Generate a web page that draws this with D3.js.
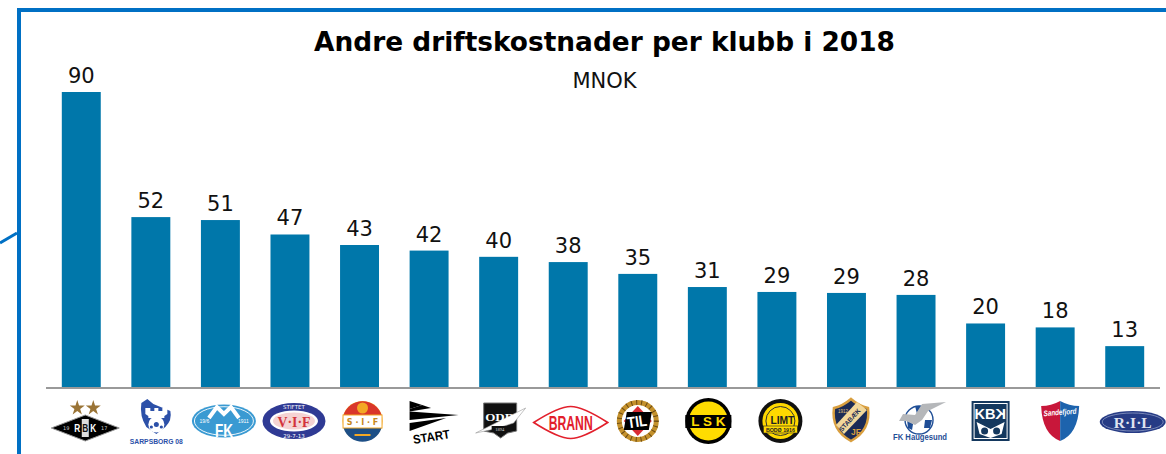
<!DOCTYPE html>
<html><head><meta charset="utf-8">
<script src="https://cdn.jsdelivr.net/npm/d3@7/dist/d3.min.js"></script>
<style>html,body{margin:0;padding:0;background:#fff}svg{display:block}text{font-family:"DejaVu Sans",sans-serif}</style>
</head><body><svg id="c" width="1166" height="454"></svg>
<script>
const clubs=["Rosenborg","Sarpsborg 08","Molde","Vålerenga","Strømsgodset","Start","Odd","Brann","Tromsø","Lillestrøm","Bodø/Glimt","Stabæk","Haugesund","Kristiansund","Sandefjord","Ranheim"];
const costs=[90,51.9,51,46.6,43.4,41.7,39.8,38.2,34.6,30.6,29.1,28.8,28.2,19.5,18.3,12.6];
const labels=["90","52","51","47","43","42","40","38","35","31","29","29","28","20","18","13"];
const titleText="Andre driftskostnader per klubb i 2018";
const unitText="MNOK";

const svg=d3.select("#c");
const x=d3.scaleBand().domain(clubs).range([46.5,1159.5]).paddingInner(0.44).paddingOuter(0.22);
const y=d3.scaleLinear().domain([0,90]).range([387.5,92]);
const BLUE="#0070c4",BAR="#0077aa";

// frame
svg.append("path").attr("d","M19 454V10H1166").attr("fill","none").attr("stroke",BLUE).attr("stroke-width",4);
svg.append("path").attr("d","M0 243L17 233").attr("fill","none").attr("stroke",BLUE).attr("stroke-width",3);

svg.append("text").attr("x",604.5).attr("y",51).attr("text-anchor","middle").attr("font-weight","bold").attr("font-size",26.4).attr("fill","#000").text(titleText);
svg.append("text").attr("x",604.5).attr("y",88).attr("text-anchor","middle").attr("font-size",21).attr("fill","#111").text(unitText);

svg.selectAll("rect.bar").data(costs).join("rect").attr("class","bar")
 .attr("x",(d,i)=>x(clubs[i])).attr("width",x.bandwidth())
 .attr("y",d=>y(d)).attr("height",d=>y(0)-y(d)).attr("fill",BAR);
svg.selectAll("text.val").data(costs).join("text").attr("class","val")
 .attr("x",(d,i)=>x(clubs[i])+x.bandwidth()/2).attr("y",d=>y(d)-9)
 .attr("text-anchor","middle").attr("font-size",21).attr("fill","#111").text((d,i)=>labels[i]);

const axis=d3.axisBottom(x).tickSize(0).tickFormat("");
const ag=svg.append("g").attr("transform","translate(0,388)").call(axis);
ag.select(".domain").attr("stroke","#999").attr("stroke-width",2).attr("d","M46 0H1160");

// logos: each drawn around the centre of its club's band
const cx=c=>x(c)+x.bandwidth()/2;
function L(c,dx,dy){return svg.append("g").attr("transform",`translate(${cx(c)+dx},${dy})`).attr("class","logo");}
function T(g,s,xx,yy,size,fill,o={}){const t=g.append("text").attr("x",xx).attr("y",yy).attr("text-anchor",o.anchor||"middle").attr("font-size",size).attr("fill",fill).attr("font-weight",o.w||"bold").text(s);
 if(o.family)t.style("font-family",o.family);if(o.style)t.attr("font-style",o.style);if(o.tl)t.attr("textLength",o.tl).attr("lengthAdjust","spacingAndGlyphs");if(o.rot!=null)t.attr("transform",`rotate(${o.rot} ${xx} ${yy})`);return t;}
const star=d3.symbol().type(d3.symbolStar).size(70);
const cond='"Liberation Sans",sans-serif',serif='"Liberation Serif",serif';

// Rosenborg
{const g=L("Rosenborg",4,428);
 g.selectAll("path.s").data([-8,8]).join("path").attr("d",star).attr("transform",d=>`translate(${d},-20)`).attr("fill","#9a7436");
 g.append("path").attr("d","M-34 0L0 -13L34 0L0 13Z").attr("fill","#000").attr("stroke","#999").attr("stroke-width",1);
 g.append("rect").attr("x",-3.5).attr("y",-9).attr("width",7).attr("height",18).attr("fill","#ddd");
 T(g,"R",-8,4,10,"#fff",{family:cond,tl:6});T(g,"B",0,4,10,"#111",{family:cond,tl:6});T(g,"K",8,4,10,"#fff",{family:cond,tl:6});
 T(g,"19",-19,2,5,"#ccc",{w:"normal"});T(g,"17",19,2,5,"#ccc",{w:"normal"});}
// Sarpsborg 08
{const g=L("Sarpsborg 08",5.5,0);const c="#2c50a8";
 g.append("path").attr("d","M-15 403L-9 399L-3 404L14 411Q16 420 9 427L0 434L-10 427Q-17 416 -15 403Z").attr("fill",c);
 g.append("path").attr("d","M-11 408H-6V411H-2V408H2V411H6V408H11V414L8 416V418H-8V416L-11 414Z").attr("fill","#fff");
 g.append("circle").attr("cx",0).attr("cy",424.5).attr("r",8).attr("fill","#fff");
 g.append("circle").attr("cx",0).attr("cy",424.5).attr("r",2.5).attr("fill",c);
 g.append("circle").attr("cx",-5).attr("cy",427).attr("r",1.6).attr("fill",c);
 g.append("circle").attr("cx",5).attr("cy",427).attr("r",1.6).attr("fill",c);
 T(g,"SARPSBORG 08",0,444,8,c,{family:cond,tl:53});}
// Molde
{const g=L("Molde",3.5,421);const c="#3a9ad2";
 g.append("ellipse").attr("rx",32).attr("ry",16.5).attr("fill",c);
 g.append("ellipse").attr("rx",29.5).attr("ry",14.3).attr("fill","none").attr("stroke","#fff").attr("stroke-width",.9);
 g.append("path").attr("d","M-15 -3L-7 -14L0 -7L7 -14L15 -3").attr("fill","none").attr("stroke","#fff").attr("stroke-width",4);
 T(g,"FK",0,15.5,19,"#fff",{family:cond,tl:18});
 T(g,"19/6",-19.5,2,5,"#fff",{w:"normal",family:cond});T(g,"1911",19.5,2,5,"#fff",{w:"normal",family:cond});}
// Vålerenga
{const g=L("Vålerenga",4,421);const c="#2f3a94";
 g.append("ellipse").attr("rx",31.5).attr("ry",18).attr("fill",c);
 g.append("ellipse").attr("rx",24).attr("ry",10.5).attr("fill","#fff");
 g.append("ellipse").attr("rx",21).attr("ry",8.5).attr("fill","#f5d3d3");
 T(g,"V·I·F",0,6,15,"#d2343c",{family:serif,tl:33});
 T(g,"STIFTET",0,-12,5.5,"#fff",{w:"normal"});T(g,"29-7-13",0,16.5,5.5,"#fff",{w:"normal"});}
// Strømsgodset
{const g=L("Strømsgodset",3,421);
 g.append("circle").attr("r",20).attr("fill","#f3a825");
 g.append("path").attr("d","M-19 -6A20 20 0 0 1 19 -6Z").attr("fill","#d9362a");
 g.append("path").attr("d","M-19 7A20 20 0 0 0 19 7Z").attr("fill","#1d4f86");
 g.append("rect").attr("x",-19.5).attr("y",-6).attr("width",39).attr("height",13).attr("fill","#fff");
 g.append("rect").attr("x",-19.5).attr("y",-6).attr("width",39).attr("height",13).attr("fill","none").attr("stroke","#f3a825").attr("stroke-width",1);
 g.append("circle").attr("cy",-13).attr("r",5.5).attr("fill","#f3a825");
 T(g,"S · I · F",0,4,8,"#c8891c",{});
 g.append("path").attr("d","M-8 14H8").attr("stroke","#f3a825").attr("stroke-width",2);}
// Start
{const g=L("Start",0,0);
 g.append("path").attr("d","M-19.5 401L-7 405L-19.5 409Z M-19.5 411.5L29.5 415L-19.5 420Z M-19.5 423L17 418L-19.5 431Z").attr("fill","#000");
 g.append("path").attr("d","M-19.5 409L-7 405L2 408L-19.5 411.5Z").attr("fill","#000");
 T(g,"START",3,441,12.5,"#000",{family:cond,tl:37,rot:-9});}
// Odd
{const g=L("Odd",1,0);
 g.append("path").attr("d","M-16 403H17V431L8 433L1 438L-6 433L-16 431Z").attr("fill","#111").attr("stroke","#777");
 g.append("path").attr("d","M-24 433L26 408L14 423L-5 429Z").attr("fill","#fff").attr("stroke","#999").attr("stroke-width",.6);
 T(g,"ODD",0,421,11,"#fff",{family:serif,tl:29});
 g.append("rect").attr("x",-8).attr("y",426).attr("width",16).attr("height",6).attr("fill","#111");
 T(g,"1894",0,431,4.5,"#ddd",{w:"normal",family:serif});}
// Brann
{const g=L("Brann",2.5,422.5);const c="#e2202c";
 g.append("path").attr("d","M-37 0Q-12 -16 0 -16Q12 -16 37 0Q12 16 0 16Q-12 16 -37 0Z").attr("fill","#fff").attr("stroke",c).attr("stroke-width",1.6);
 T(g,"BRANN",0,7,20,c,{family:cond,tl:44});}
// Tromsø
{const g=L("Tromsø",0,421);
 g.append("circle").attr("r",18.5).attr("fill","none").attr("stroke","#c4912c").attr("stroke-width",5);
 g.append("circle").attr("r",18.5).attr("fill","none").attr("stroke","#6b4a12").attr("stroke-width",5).attr("stroke-dasharray","1 4");
 g.append("path").attr("d","M0 -15L14 0L0 15L-14 0Z").attr("fill","#d92b33");
 g.append("path").attr("d","M-11 -9H14L11 9H-14Z").attr("fill","#000");
 T(g,"TIL",0,6,16,"#fff",{family:cond,tl:20,rot:-8});}
// Lillestrøm
{const g=L("Lillestrøm",1,421);
 g.append("circle").attr("r",23).attr("fill","#000");
 g.append("circle").attr("r",19.5).attr("fill","#ffdc00");
 g.append("rect").attr("x",-23).attr("y",-6).attr("width",46).attr("height",13).attr("fill","#000");
 T(g,"L S K",0,5,12,"#ffdc00",{family:cond,tl:34});}
// Bodø/Glimt
{const g=L("Bodø/Glimt",3.5,421);
 g.append("circle").attr("r",22).attr("fill","#111");
 g.append("circle").attr("r",18).attr("fill","#ffd900");
 g.append("circle").attr("r",14.5).attr("fill","none").attr("stroke","#333").attr("stroke-width",1);
 g.append("rect").attr("x",-17).attr("y",5).attr("width",34).attr("height",7).attr("fill","#ffd900").attr("stroke","#222").attr("stroke-width",.6);
 T(g,"BODØ 1916",0,10.5,5,"#222",{family:cond,tl:29});
 T(g,"LIMT",2,3,11,"#222",{family:cond,tl:24});}
// Stabæk
{const g=L("Stabæk",4.5,0);
 g.append("path").attr("d","M-17 408Q-8 406 0 399Q8 406 17 408Q20 430 0 441Q-20 430 -17 408Z").attr("fill","#1c2b55").attr("stroke","#d99f3f").attr("stroke-width",2.5);
 g.append("path").attr("d","M-15 425L6 402L16 410L-7 434Z").attr("fill","#f2d79a");
 T(g,"JF",5,435,8.5,"#d99f3f",{family:cond});
 T(g,"1912",-8,413,4.5,"#e8c27a",{w:"normal",family:cond});
 T(g,"STABÆK",0.5,421.5,6.5,"#1c2b55",{family:cond,rot:-48});}
// Haugesund
{const g=L("Haugesund",3,0);const c="#1f4e96";
 g.append("circle").attr("cy",420).attr("r",14).attr("fill","#fff").attr("stroke",c).attr("stroke-width",1.4);
 g.append("path").attr("d","M-4 406L5 406L6 413L-2 414Z M6 420L13 420L11 428L5 428Z M-12 420L-6 424L-7 430L-11 428Z").attr("fill",c);
 g.append("path").attr("d","M-20 421L-16 414L-4 415L3 404L27 402L9 411L3 420L-4 425L-13 421Z").attr("fill","#b5b7ba");
 T(g,"FK Haugesund",1,440,9,c,{family:cond,tl:54});}
// Kristiansund
{const g=L("Kristiansund",5,0);const c="#14385e";
 g.append("rect").attr("x",-19).attr("y",401).attr("width",38).attr("height",40).attr("fill",c);
 g.append("rect").attr("x",-16.5).attr("y",403.5).attr("width",33).attr("height",35).attr("fill","none").attr("stroke","#fff").attr("stroke-width",1);
 T(g,"KB",-5.5,419,15,"#fff",{family:cond,tl:21});
 T(g,"K",10,419,15,"#fff",{family:cond}).attr("transform","translate(20,0) scale(-1,1)");
 g.append("path").attr("d","M-14 422L0 429L14 422L11 434L0 438L-11 434Z").attr("fill","#fff");
 g.selectAll("circle.e").data([-6,6]).join("circle").attr("cx",d=>d).attr("cy",431).attr("r",3.5).attr("fill",c);}
// Sandefjord
{const g=L("Sandefjord",5,0);
 g.append("path").attr("d","M-19 406Q-9 406 0 401V441Q-18 434 -19 406Z").attr("fill","#c8173a");
 g.append("path").attr("d","M19 406Q9 406 0 401V441Q18 434 19 406Z").attr("fill","#1d63ad");
 T(g,"Sandefjord",0,415,8,"#fff",{family:cond,style:"italic",tl:33,rot:-4});}
// Ranheim
{const g=L("Ranheim",8,422);const c="#263b85";
 g.append("ellipse").attr("rx",33).attr("ry",11).attr("fill",c);
 g.append("ellipse").attr("rx",30.5).attr("ry",9).attr("fill","none").attr("stroke","#9aa6cc").attr("stroke-width",.7);
 T(g,"R·I·L",0,6,15,"#dfe3f0",{family:serif,tl:38});}
</script></body></html>
